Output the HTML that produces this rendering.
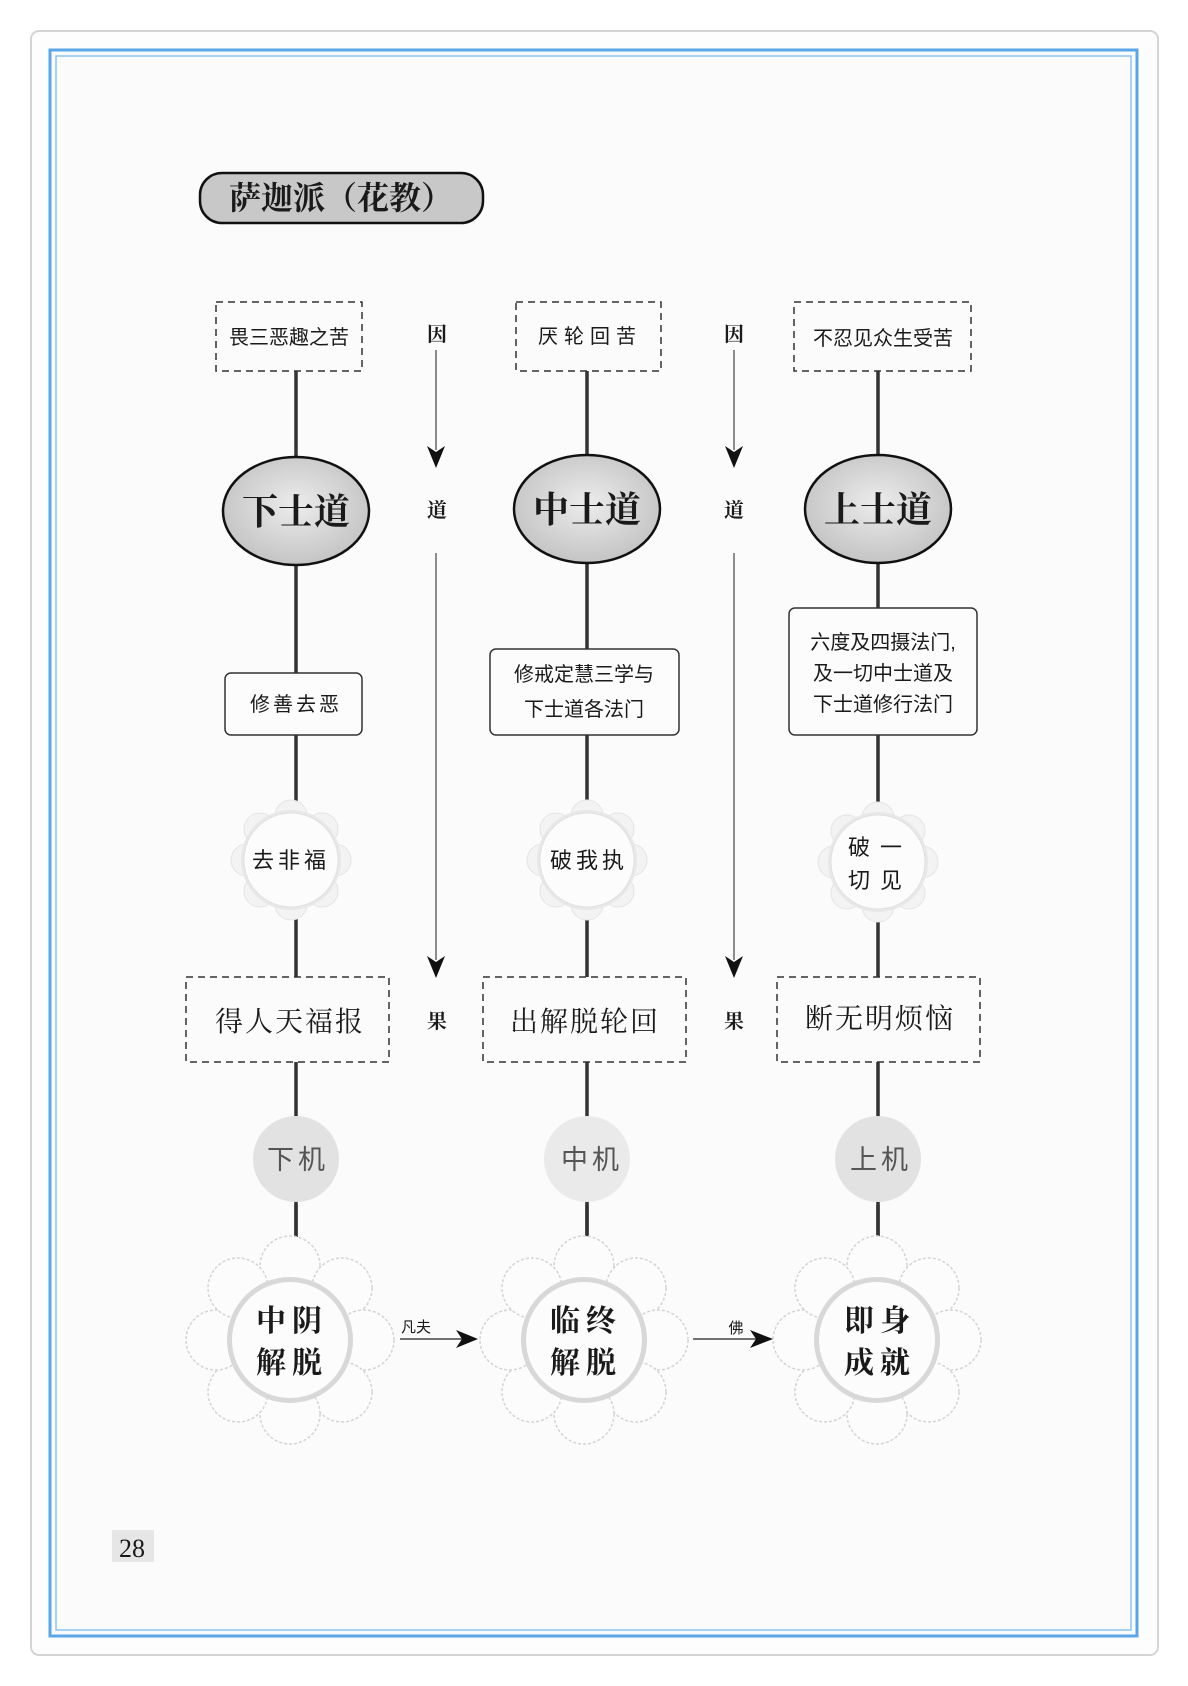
<!DOCTYPE html>
<html><head><meta charset="utf-8"><style>
html,body{margin:0;padding:0;background:#fff;}
svg{display:block;}
text{font-family:"Liberation Serif","Noto Serif CJK SC","Noto Sans CJK SC",serif;fill:#1a1a1a;}
.s{font-family:"Liberation Sans","Noto Sans CJK SC",sans-serif;}
</style></head><body>
<svg width="1188" height="1686" viewBox="0 0 1188 1686" xmlns="http://www.w3.org/2000/svg">
<defs>
<radialGradient id="eg" cx="50%" cy="45%" r="55%"><stop offset="0" stop-color="#ececec"/><stop offset="1" stop-color="#c4c4c4"/></radialGradient>
<g id="flower">
  <g fill="#fcfcfc" stroke="#d4d4d4" stroke-width="1.5" stroke-dasharray="3 2">
    <circle cx="0" cy="-74" r="30"/><circle cx="52" cy="-52" r="30"/><circle cx="74" cy="0" r="30"/><circle cx="52" cy="52" r="30"/>
    <circle cx="0" cy="74" r="30"/><circle cx="-52" cy="52" r="30"/><circle cx="-74" cy="0" r="30"/><circle cx="-52" cy="-52" r="30"/>
  </g>
  <circle r="63" fill="#d8d8d8"/><circle r="58" fill="#fcfcfc"/>
</g>
<g id="small">
  <g fill="#f3f3f3" stroke="#e4e4e4" stroke-width="1">
    <circle cx="0" cy="-44" r="16"/><circle cx="31" cy="-31" r="16"/><circle cx="44" cy="0" r="16"/><circle cx="31" cy="31" r="16"/>
    <circle cx="0" cy="44" r="16"/><circle cx="-31" cy="31" r="16"/><circle cx="-44" cy="0" r="16"/><circle cx="-31" cy="-31" r="16"/>
  </g>
  <circle r="50" fill="#e8e8e8"/><circle r="47" fill="#fcfcfc" stroke="#e0e0e0"/>
</g>
</defs>
<rect width="1188" height="1686" fill="#fff"/>
<rect x="31" y="31" width="1127" height="1624" rx="8" fill="#fdfdfd" stroke="#d4d4d4" stroke-width="2"/>
<rect x="50" y="50" width="1087" height="1586" fill="#fbfbfb" stroke="#5aa6e8" stroke-width="3"/>
<rect x="56" y="56" width="1075" height="1574" fill="none" stroke="#8cc4f0" stroke-width="1.5"/>

<rect x="200" y="173" width="283" height="50" rx="22" fill="#c8c8c8" stroke="#111" stroke-width="2.5"/>
<text x="341" y="209" font-size="32" font-weight="bold" text-anchor="middle">萨迦派（花教）</text>

<g stroke="#333" stroke-width="3.5">
<line x1="296" y1="371" x2="296" y2="1240"/>
<line x1="587" y1="371" x2="587" y2="1240"/>
<line x1="878" y1="371" x2="878" y2="1240"/>
</g>

<g fill="#fbfbfb" stroke="#333" stroke-width="1.5" stroke-dasharray="7 5">
<rect x="216" y="302" width="146" height="69"/>
<rect x="516" y="302" width="145" height="69"/>
<rect x="794" y="302" width="177" height="69"/>
<rect x="186" y="977" width="203" height="85"/>
<rect x="483" y="977" width="203" height="85"/>
<rect x="777" y="977" width="203" height="85"/>
</g>
<g class="s" font-size="20" text-anchor="middle">
<text class="s" x="289" y="344">畏三恶趣之苦</text>
<text class="s" x="590" y="343" letter-spacing="6">厌轮回苦</text>
<text class="s" x="883" y="345">不忍见众生受苦</text>
</g>

<g fill="url(#eg)" stroke="#111" stroke-width="2.5">
<ellipse cx="296" cy="511" rx="73" ry="54"/>
<ellipse cx="587" cy="509" rx="73" ry="54"/>
<ellipse cx="878" cy="509" rx="73" ry="54"/>
</g>
<g font-size="36" font-weight="bold" text-anchor="middle">
<text x="296" y="524">下士道</text>
<text x="587" y="522">中士道</text>
<text x="878" y="522">上士道</text>
</g>

<g fill="#fcfcfc" stroke="#333" stroke-width="1.5">
<rect x="225" y="673" width="137" height="62" rx="6"/>
<rect x="490" y="649" width="189" height="86" rx="6"/>
<rect x="789" y="608" width="188" height="127" rx="6"/>
</g>
<g font-size="20" text-anchor="middle">
<text class="s" x="296" y="711" letter-spacing="3">修善去恶</text>
<text class="s" x="584" y="681">修戒定慧三学与</text>
<text class="s" x="584" y="716">下士道各法门</text>
<text class="s" x="883" y="649">六度及四摄法门,</text>
<text class="s" x="883" y="680">及一切中士道及</text>
<text class="s" x="883" y="711">下士道修行法门</text>
</g>

<use href="#small" x="291" y="860"/>
<use href="#small" x="587" y="860"/>
<use href="#small" x="878" y="862"/>
<g font-size="22" text-anchor="middle">
<text class="s" x="291" y="868" letter-spacing="4">去非福</text>
<text class="s" x="589" y="868" letter-spacing="4">破我执</text>
<text class="s" x="880" y="855" letter-spacing="10">破一</text>
<text class="s" x="880" y="888" letter-spacing="10">切见</text>
</g>

<g font-size="28" text-anchor="middle">
<text x="290" y="1031" letter-spacing="2">得人天福报</text>
<text x="585" y="1031" letter-spacing="2">出解脱轮回</text>
<text x="880" y="1028" letter-spacing="2">断无明烦恼</text>
</g>

<g fill="#e2e2e2">
<circle cx="296" cy="1159" r="43"/>
<circle cx="587" cy="1159" r="43" fill="#eaeaea"/>
<circle cx="878" cy="1159" r="43"/>
</g>
<g font-size="27" text-anchor="middle">
<text class="s" x="298" y="1169" style="fill:#555" letter-spacing="4">下机</text>
<text class="s" x="592" y="1169" style="fill:#555" letter-spacing="4">中机</text>
<text class="s" x="881" y="1169" style="fill:#555" letter-spacing="4">上机</text>
</g>
<g stroke="#333" stroke-width="3.5">
<line x1="296" y1="1205" x2="296" y2="1240"/>
<line x1="587" y1="1205" x2="587" y2="1240"/>
<line x1="878" y1="1205" x2="878" y2="1240"/>
</g>

<use href="#flower" x="290" y="1340"/>
<use href="#flower" x="584" y="1340"/>
<use href="#flower" x="877" y="1340"/>
<g font-size="30" font-weight="bold" text-anchor="middle">
<text x="292" y="1331" letter-spacing="6">中阴</text>
<text x="292" y="1373" letter-spacing="6">解脱</text>
<text x="586" y="1331" letter-spacing="6">临终</text>
<text x="586" y="1373" letter-spacing="6">解脱</text>
<text x="880" y="1331" letter-spacing="6">即身</text>
<text x="880" y="1373" letter-spacing="6">成就</text>
</g>

<g stroke="#444" stroke-width="1.5"><line x1="400" y1="1339" x2="465" y2="1339"/><line x1="693" y1="1339" x2="760" y2="1339"/></g>
<polygon points="456,1330 478,1339 456,1348 462,1339" fill="#111"/>
<polygon points="750,1330 773,1339 750,1348 756,1339" fill="#111"/>
<text class="s" x="416" y="1332" font-size="15" text-anchor="middle">凡夫</text>
<text class="s" x="736" y="1333" font-size="15" text-anchor="middle">佛</text>

<g font-size="20" text-anchor="middle" font-weight="bold">
<text x="437" y="341">因</text><text x="437" y="517">道</text><text x="437" y="1028">果</text>
<text x="734" y="341">因</text><text x="734" y="517">道</text><text x="734" y="1028">果</text>
</g>
<g stroke="#444" stroke-width="1.2">
<line x1="436" y1="350" x2="436" y2="450"/><line x1="436" y1="553" x2="436" y2="960"/>
<line x1="734" y1="350" x2="734" y2="450"/><line x1="734" y1="553" x2="734" y2="960"/>
</g>
<polygon points="427,446 436,468 445,446 436,452" fill="#111"/>
<polygon points="725,446 734,468 743,446 734,452" fill="#111"/>
<polygon points="427,956 436,978 445,956 436,962" fill="#111"/>
<polygon points="725,956 734,978 743,956 734,962" fill="#111"/>

<rect x="112" y="1530" width="42" height="32" fill="#e6e6e6"/>
<text x="132" y="1557" font-size="26" text-anchor="middle">28</text>
</svg>
</body></html>
